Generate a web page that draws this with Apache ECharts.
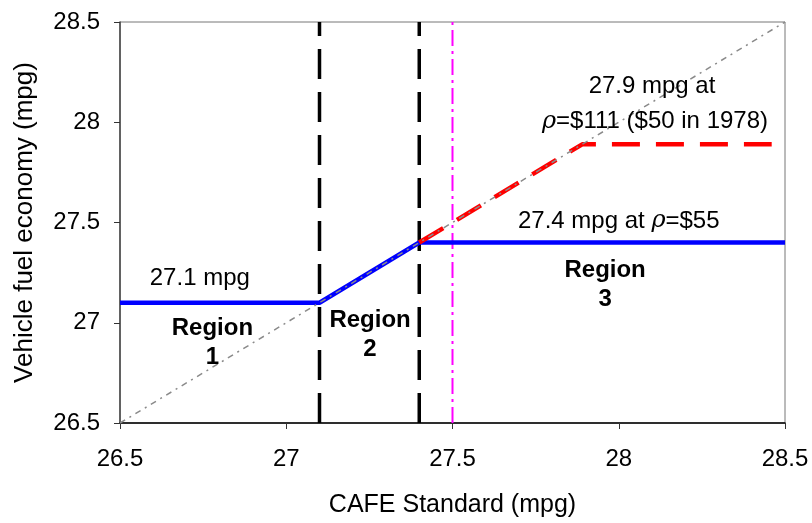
<!DOCTYPE html>
<html>
<head>
<meta charset="utf-8">
<script src="https://cdn.jsdelivr.net/npm/echarts@6/dist/echarts.min.js"></script>
<style>
  html, body { margin: 0; padding: 0; background: #fff; }
  #main { width: 812px; height: 523px; }
</style>
</head>
<body>
<div id="main"></div>
<script>
// data (mpg)
var diagonal = [[26.5, 26.5], [28.5, 28.5]];
var blueLine = [[26.5, 27.1], [27.1, 27.1], [27.4, 27.4], [28.5, 27.4]];
var redLine = [[27.4, 27.4], [27.89, 27.89], [28.46, 27.89]];
var regionBounds = [27.1, 27.4];
var rhoLine = 27.5;
var tickLabels = ['26.5', '27', '27.5', '28', '28.5'];

// annotations: [x, y, text, weight]
var notes = [
  [26.74, 27.22, '27.1 mpg', 'normal'],
  [26.778, 26.90, 'Region\n1', 'bold'],
  [27.252, 26.94, 'Region\n2', 'bold'],
  [27.959, 27.19, 'Region\n3', 'bold'],
  [28.0, 27.507, '27.4 mpg at {r|ρ}=$55', 'normal'],
  [28.1, 28.177, '27.9 mpg at', 'normal'],
  [28.109, 28.004, '{r|ρ}=$111 ($50 in 1978)', 'normal']
];

var font = '"Liberation Sans", Arial, sans-serif';
var chart = echarts.init(document.getElementById('main'));

function vLine(x) {
  return [[x, 26.5], [x, 28.5]];
}

function tickText(v) {
  return tickLabels[Math.round((v - 26.5) / 0.5)];
}

var series = [
  {
    type: 'line', data: diagonal, symbol: 'none', silent: true, z: 5,
    lineStyle: { color: '#8a8a8a', width: 1.5, type: [6, 5, 2, 5] }
  },
  {
    type: 'line', data: blueLine, symbol: 'none', z: 3,
    lineStyle: { color: '#0000ff', width: 4.5 }
  },
  {
    type: 'line', data: redLine, symbol: 'none', z: 4,
    lineStyle: { color: '#ff0000', width: 4.5, type: [28, 16] }
  },
  {
    type: 'line', data: vLine(rhoLine), symbol: 'none', z: 2,
    lineStyle: { color: '#ff00ff', width: 2, type: [16, 5, 3, 5] }
  }
];
regionBounds.forEach(function (x) {
  series.push({
    type: 'line', data: vLine(x), symbol: 'none', z: 2,
    lineStyle: { color: '#000', width: 3.5, type: [30, 13] }
  });
});
series.push({
  type: 'scatter', symbolSize: 0, z: 10, silent: true,
  itemStyle: { opacity: 1 },
  data: notes.map(function (n) {
    return {
      value: [n[0], n[1]],
      label: {
        show: true, position: 'inside', formatter: n[2],
        fontFamily: font, fontSize: 24, color: '#000', opacity: 1,
        fontWeight: n[3], lineHeight: n[3] === 'bold' ? 29 : 26,
        align: 'center', verticalAlign: 'middle',
        rich: {
          r: { fontFamily: '"DejaVu Serif", serif', fontStyle: 'italic', fontSize: 24, color: '#000' }
        }
      }
    };
  })
});

var option = {
  animation: false,
  backgroundColor: '#fff',
  textStyle: { color: '#000' },
  grid: {
    left: 120, right: 27, top: 22, bottom: 98,
    show: true, borderColor: '#777', borderWidth: 1
  },
  xAxis: {
    type: 'value', min: 26.5, max: 28.5, interval: 0.5,
    name: 'CAFE Standard (mpg)', nameLocation: 'middle', nameGap: 70,
    nameTextStyle: { fontFamily: font, fontSize: 25, color: '#000' },
    axisLine: { onZero: false, lineStyle: { color: '#000', width: 1.5 } },
    axisTick: { inside: false, length: 6, lineStyle: { color: '#333' } },
    axisLabel: {
      margin: 24, fontFamily: font, fontSize: 24, color: '#000',
      formatter: tickText
    },
    splitLine: { show: false }
  },
  yAxis: {
    type: 'value', min: 26.5, max: 28.5, interval: 0.5,
    name: 'Vehicle fuel economy (mpg)', nameLocation: 'middle', nameGap: 82,
    nameTextStyle: { fontFamily: font, fontSize: 26, color: '#000' },
    axisLine: { onZero: false, lineStyle: { color: '#444', width: 1.5 } },
    axisTick: { inside: false, length: 6, lineStyle: { color: '#333' } },
    axisLabel: {
      margin: 20, fontFamily: font, fontSize: 24, color: '#000',
      formatter: tickText
    },
    splitLine: { show: false }
  },
  series: series
};

chart.setOption(option);
window.onresize = function () {
  chart.resize();
};
</script>
</body>
</html>
